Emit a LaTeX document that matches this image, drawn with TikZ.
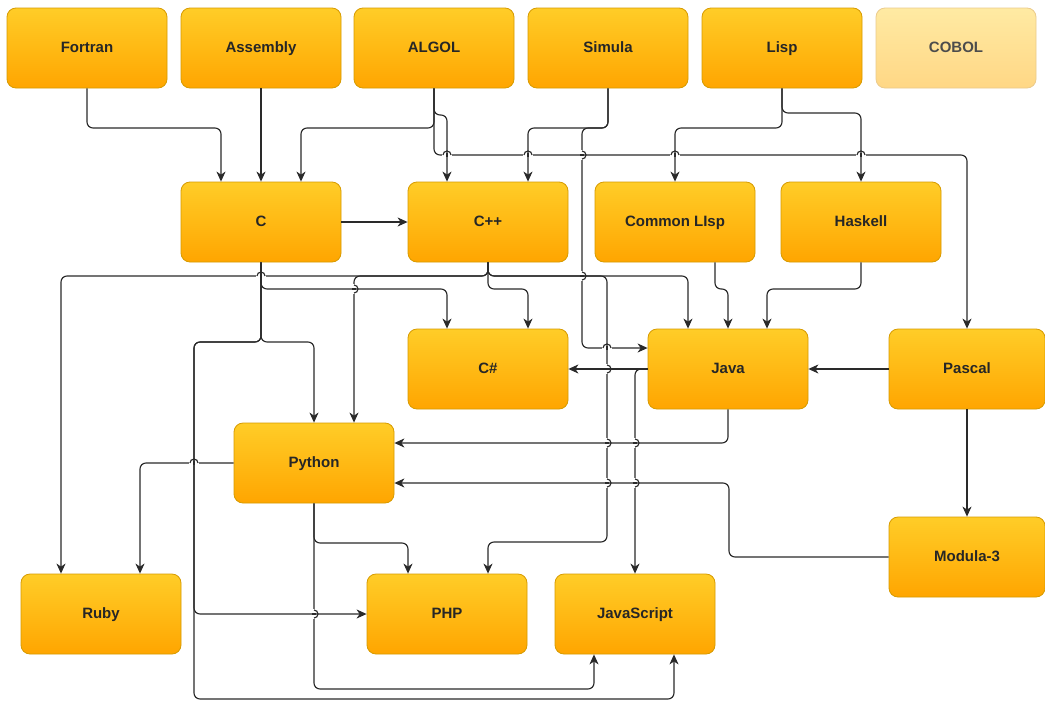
\documentclass[tikz,border=0pt]{standalone}
\usepackage{fontspec}
\setmainfont{Liberation Sans}
\usetikzlibrary{arrows.meta}
\definecolor{boxtop}{HTML}{FFCD28}
\definecolor{boxbot}{HTML}{FFA500}
\definecolor{boxline}{HTML}{D79B00}
\definecolor{fadetop}{HTML}{FFEAA3}
\definecolor{fadebot}{HTML}{FFD785}
\definecolor{fadeline}{HTML}{EBCB8C}
\definecolor{wirecol}{HTML}{2A2A2A}
\tikzset{
  lang/.style={rounded corners=9pt, draw=boxline, line width=0.8pt,
    top color=boxtop, bottom color=boxbot,
    minimum width=160pt, minimum height=80pt, inner sep=0pt,
    text height=11pt, text depth=3pt,
    font=\bfseries\fontsize{15}{18}\selectfont, text=black!85},
  faded/.style={lang, draw=fadeline, top color=fadetop, bottom color=fadebot, text=black!70},
  narrow/.style={minimum width=156pt},
  wire/.style={draw=wirecol, line width=1.15pt},
  arr/.style={wire, rounded corners=6pt, -{Stealth[length=10pt,width=9pt,inset=3pt]}}
}
% line jump: horizontal wire at y=#2 hopping over a vertical one at x=#1
\newcommand\hopH[2]{%
  \fill[white] (#1-5,#2-1.8) rectangle (#1+5,#2+1.8);
  \draw[wire] (#1,#2-1.9) -- (#1,#2+1.9);
  \draw[wire] (#1-4,#2) arc[start angle=180,end angle=360,radius=4];}
% line jump: vertical wire at x=#1 hopping over a horizontal one at y=#2
\newcommand\hopV[2]{%
  \fill[white] (#1-1.8,#2-5) rectangle (#1+1.8,#2+5);
  \draw[wire] (#1-1.9,#2) -- (#1+1.9,#2);
  \draw[wire] (#1,#2-4) arc[start angle=-90,end angle=90,radius=4];}
\begin{document}
\begin{tikzpicture}[x=1pt,y=-1pt]
\fill[white] (0,0) rectangle (1045,702);
\useasboundingbox (0,0) rectangle (1045,702);

% languages
\node[lang] (fortran)  at (87,48)  {Fortran};
\node[lang] (assembly) at (261,48) {Assembly};
\node[lang] (algol)    at (434,48) {ALGOL};
\node[lang] (simula)   at (608,48) {Simula};
\node[lang] (lisp)     at (782,48) {Lisp};
\node[faded] (cobol)   at (956,48) {COBOL};

\node[lang] (c)        at (261,222) {C};
\node[lang] (cpp)      at (488,222) {C++};
\node[lang] (clisp)    at (675,222) {Common LIsp};
\node[lang] (haskell)  at (861,222) {Haskell};

\node[lang] (csharp)   at (488,369) {C\#};
\node[lang] (java)     at (728,369) {Java};
\node[lang,narrow] (pascal) at (967,369) {Pascal};

\node[lang] (python)   at (314,463) {Python};
\node[lang,narrow] (modula) at (967,557) {Modula-3};

\node[lang] (ruby)     at (101,614) {Ruby};
\node[lang] (php)      at (447,614) {PHP};
\node[lang] (js)       at (635,614) {JavaScript};

% influences from the first row
\draw[arr] (fortran.south) -- (87,128) -- (221,128) -- (221,0 |- c.north);
\draw[arr] (assembly.south) -- (c.north);
\draw[arr] (algol.south) -- (434,128) -- (301,128) -- (301,0 |- c.north);
\draw[arr] (algol.south) -- (434,115) -- (447,115) -- (447,0 |- cpp.north);
\draw[arr] (algol.south) -- (434,155) -- (967,155) -- (pascal.north);
\draw[arr] (simula.south) -- (608,128) -- (528,128) -- (528,0 |- cpp.north);
\draw[arr] (simula.south) -- (608,128) -- (582,128) -- (582,348) -- (java.west |- 0,348);
\draw[arr] (lisp.south) -- (782,128) -- (675,128) -- (clisp.north);
\draw[arr] (lisp.south) -- (782,113) -- (861,113) -- (haskell.north);

% from C
\draw[arr] (c.east) -- (cpp.west);
\draw[arr] (c.south) -- (261,289) -- (447,289) -- (447,0 |- csharp.north);
\draw[arr] (c.south) -- (261,342) -- (314,342) -- (python.north);
\draw[arr] (c.south) -- (261,342) -- (194,342) -- (194,614) -- (php.west);
\draw[arr] (c.south) -- (261,342) -- (194,342) -- (194,699) -- (674,699) -- (674,0 |- js.south);

% from C++
\draw[arr] (cpp.south) -- (488,276) -- (61,276) -- (61,0 |- ruby.north);
\draw[arr] (cpp.south) -- (488,276) -- (354,276) -- (354,0 |- python.north);
\draw[arr] (cpp.south) -- (488,276) -- (688,276) -- (688,0 |- java.north);
\draw[arr] (cpp.south) -- (488,289) -- (528,289) -- (528,0 |- csharp.north);
\draw[arr] (cpp.south) -- (488,276) -- (607,276) -- (607,542) -- (488,542) -- (488,0 |- php.north);

% into Java
\draw[arr] (715,0 |- clisp.south) -- (715,289) -- (728,289) -- (java.north);
\draw[arr] (haskell.south) -- (861,289) -- (767,289) -- (767,0 |- java.north);
\draw[arr] (pascal.west) -- (java.east);

% from Java, Pascal and Modula-3
\draw[arr] (java.west) -- (csharp.east);
\draw[arr] (java.west) -- (635,369) -- (635,0 |- js.north);
\draw[arr] (java.south) -- (728,443) -- (python.east |- 0,443);
\draw[arr] (modula.west) -- (729,557) -- (729,483) -- (python.east |- 0,483);
\draw[arr] (pascal.south) -- (modula.north);

% from Python
\draw[arr] (python.west) -- (140,463) -- (140,0 |- ruby.north);
\draw[arr] (python.south) -- (314,543) -- (408,543) -- (408,0 |- php.north);
\draw[arr] (python.south) -- (314,689) -- (594,689) -- (594,0 |- js.south);

% line jumps at crossings
\hopH{447}{155} \hopH{528}{155} \hopH{675}{155} \hopH{861}{155}
\hopV{582}{155} \hopV{582}{276}
\hopH{261}{276}
\hopV{354}{289}
\hopH{607}{348}
\hopV{607}{369}
\hopV{607}{443} \hopV{635}{443}
\hopV{607}{483} \hopV{635}{483}
\hopH{194}{463}
\hopV{314}{614}
\end{tikzpicture}
\end{document}
